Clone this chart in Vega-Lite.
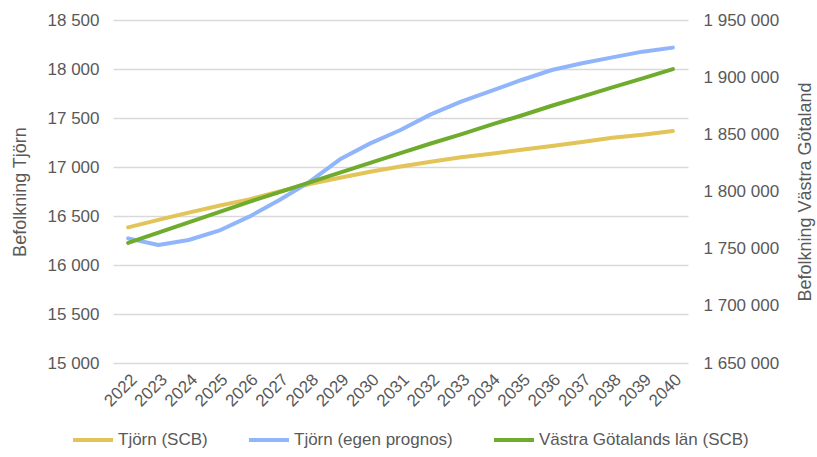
{
  "$schema": "https://vega.github.io/schema/vega-lite/v6.json",
  "width": 575,
  "height": 343,
  "autosize": {"type": "none"},
  "padding": {"left": 113, "top": 20, "right": 129, "bottom": 94},
  "background": "white",
  "config": {
    "locale": {"number": {"decimal": ",", "thousands": " ", "grouping": [3], "currency": ["", " kr"]}},
    "font": "Liberation Sans",
    "view": {"stroke": null},
    "axis": {"labelColor": "#595959", "titleColor": "#595959", "labelFont": "Liberation Sans", "titleFont": "Liberation Sans", "titleFontWeight": "normal"}
  },
  "data": {"values": [
    {"year": "2022", "series": "Tjörn (SCB)", "value": 16384},
    {"year": "2023", "series": "Tjörn (SCB)", "value": 16460},
    {"year": "2024", "series": "Tjörn (SCB)", "value": 16535},
    {"year": "2025", "series": "Tjörn (SCB)", "value": 16605},
    {"year": "2026", "series": "Tjörn (SCB)", "value": 16670},
    {"year": "2027", "series": "Tjörn (SCB)", "value": 16750},
    {"year": "2028", "series": "Tjörn (SCB)", "value": 16827},
    {"year": "2029", "series": "Tjörn (SCB)", "value": 16890},
    {"year": "2030", "series": "Tjörn (SCB)", "value": 16952},
    {"year": "2031", "series": "Tjörn (SCB)", "value": 17005},
    {"year": "2032", "series": "Tjörn (SCB)", "value": 17054},
    {"year": "2033", "series": "Tjörn (SCB)", "value": 17100},
    {"year": "2034", "series": "Tjörn (SCB)", "value": 17135},
    {"year": "2035", "series": "Tjörn (SCB)", "value": 17175},
    {"year": "2036", "series": "Tjörn (SCB)", "value": 17214},
    {"year": "2037", "series": "Tjörn (SCB)", "value": 17255},
    {"year": "2038", "series": "Tjörn (SCB)", "value": 17299},
    {"year": "2039", "series": "Tjörn (SCB)", "value": 17330},
    {"year": "2040", "series": "Tjörn (SCB)", "value": 17367},
    {"year": "2022", "series": "Tjörn (egen prognos)", "value": 16272},
    {"year": "2023", "series": "Tjörn (egen prognos)", "value": 16204},
    {"year": "2024", "series": "Tjörn (egen prognos)", "value": 16255},
    {"year": "2025", "series": "Tjörn (egen prognos)", "value": 16350},
    {"year": "2026", "series": "Tjörn (egen prognos)", "value": 16493},
    {"year": "2027", "series": "Tjörn (egen prognos)", "value": 16663},
    {"year": "2028", "series": "Tjörn (egen prognos)", "value": 16850},
    {"year": "2029", "series": "Tjörn (egen prognos)", "value": 17078},
    {"year": "2030", "series": "Tjörn (egen prognos)", "value": 17241},
    {"year": "2031", "series": "Tjörn (egen prognos)", "value": 17378},
    {"year": "2032", "series": "Tjörn (egen prognos)", "value": 17537},
    {"year": "2033", "series": "Tjörn (egen prognos)", "value": 17667},
    {"year": "2034", "series": "Tjörn (egen prognos)", "value": 17776},
    {"year": "2035", "series": "Tjörn (egen prognos)", "value": 17888},
    {"year": "2036", "series": "Tjörn (egen prognos)", "value": 17990},
    {"year": "2037", "series": "Tjörn (egen prognos)", "value": 18058},
    {"year": "2038", "series": "Tjörn (egen prognos)", "value": 18119},
    {"year": "2039", "series": "Tjörn (egen prognos)", "value": 18177},
    {"year": "2040", "series": "Tjörn (egen prognos)", "value": 18218},
    {"year": "2022", "series": "Västra Götalands län (SCB)", "value": 1755000},
    {"year": "2023", "series": "Västra Götalands län (SCB)", "value": 1764000},
    {"year": "2024", "series": "Västra Götalands län (SCB)", "value": 1773000},
    {"year": "2025", "series": "Västra Götalands län (SCB)", "value": 1782000},
    {"year": "2026", "series": "Västra Götalands län (SCB)", "value": 1791000},
    {"year": "2027", "series": "Västra Götalands län (SCB)", "value": 1799500},
    {"year": "2028", "series": "Västra Götalands län (SCB)", "value": 1808000},
    {"year": "2029", "series": "Västra Götalands län (SCB)", "value": 1816500},
    {"year": "2030", "series": "Västra Götalands län (SCB)", "value": 1825000},
    {"year": "2031", "series": "Västra Götalands län (SCB)", "value": 1833500},
    {"year": "2032", "series": "Västra Götalands län (SCB)", "value": 1842000},
    {"year": "2033", "series": "Västra Götalands län (SCB)", "value": 1850000},
    {"year": "2034", "series": "Västra Götalands län (SCB)", "value": 1858500},
    {"year": "2035", "series": "Västra Götalands län (SCB)", "value": 1866500},
    {"year": "2036", "series": "Västra Götalands län (SCB)", "value": 1875000},
    {"year": "2037", "series": "Västra Götalands län (SCB)", "value": 1883000},
    {"year": "2038", "series": "Västra Götalands län (SCB)", "value": 1891000},
    {"year": "2039", "series": "Västra Götalands län (SCB)", "value": 1899000},
    {"year": "2040", "series": "Västra Götalands län (SCB)", "value": 1907000}
  ]},
  "encoding": {
    "x": {"field": "year", "type": "ordinal", "title": null,
      "scale": {"type": "point", "padding": 0.5},
      "axis": {"labelAngle": -45, "labelFontSize": 17, "ticks": false, "domain": false, "labelPadding": 8, "grid": false}},
    "color": {"field": "series", "type": "nominal",
      "scale": {"domain": ["Tjörn (SCB)", "Tjörn (egen prognos)", "Västra Götalands län (SCB)"], "range": ["#E2C458", "#91B5FA", "#6FAC2E"]},
      "legend": {"title": null, "orient": "none", "direction": "horizontal", "legendX": -42, "legendY": 398,
        "symbolType": "stroke", "symbolSize": 1600, "symbolStrokeWidth": 4, "labelFontSize": 17, "labelColor": "#595959",
        "labelFont": "Liberation Sans", "labelOffset": 3, "columnPadding": 33, "labelLimit": 400}}
  },
  "layer": [
    {
      "transform": [{"filter": "datum.series !== 'Västra Götalands län (SCB)'"}],
      "mark": {"type": "line", "strokeWidth": 4, "strokeCap": "round", "strokeJoin": "round"},
      "encoding": {
        "y": {"field": "value", "type": "quantitative", "title": "Befolkning Tjörn",
          "scale": {"domain": [15000, 18500], "nice": false, "zero": false},
          "axis": {"orient": "left", "values": [15000, 15500, 16000, 16500, 17000, 17500, 18000, 18500], "format": ",d",
            "labelFontSize": 17, "titleFontSize": 18, "ticks": false, "domain": false, "labelPadding": 14,
            "grid": true, "gridColor": "#D9D9D9", "gridWidth": 1.5, "titleX": -93, "titleBaseline": "middle"}},
        "detail": {"field": "series"}
      }
    },
    {
      "transform": [{"filter": "datum.series === 'Västra Götalands län (SCB)'"}],
      "mark": {"type": "line", "strokeWidth": 4, "strokeCap": "round", "strokeJoin": "round"},
      "encoding": {
        "y": {"field": "value", "type": "quantitative", "title": "Befolkning Västra Götaland",
          "scale": {"domain": [1650000, 1950000], "nice": false, "zero": false},
          "axis": {"orient": "right", "values": [1650000, 1700000, 1750000, 1800000, 1850000, 1900000, 1950000], "format": ",d",
            "labelFontSize": 17, "titleFontSize": 18, "ticks": false, "domain": false, "labelPadding": 15,
            "grid": false, "titleX": 117, "titleAngle": 270, "titleBaseline": "middle"}}
      }
    }
  ],
  "resolve": {"scale": {"y": "independent"}}
}
